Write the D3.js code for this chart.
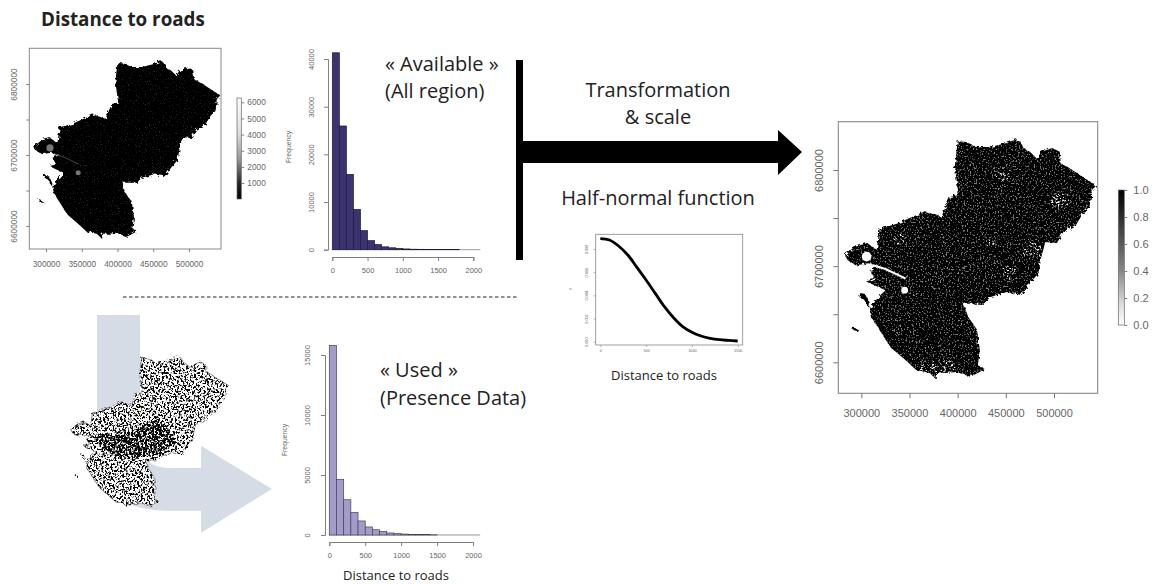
<!DOCTYPE html>
<html>
<head>
<meta charset="utf-8">
<script src="https://cdn.jsdelivr.net/npm/d3@7"></script>
<style>
  html, body { margin: 0; padding: 0; background: #fff; }
  svg { display: block; }
  .note { font-family: "Open Sans", sans-serif; fill: #222; }
  .r text { font-family: "Liberation Sans", sans-serif; fill: #666; }
  .r line, .r path.domain { stroke: #808080; }
</style>
</head>
<body>
<svg id="chart" width="1153" height="585"></svg>
<script>
// region outline (easting, northing in metres)
var regionOutline = [
  [400000,6830000],[409000,6829000],[420000,6824000],[434000,6824000],[451000,6828000],[461000,6832000],
  [466000,6829000],[468000,6823000],[475000,6819000],[482000,6812000],[487000,6819000],[498000,6823000],
  [506000,6819000],[507000,6807000],[524000,6797000],[534000,6790000],[544000,6784000],[539000,6779000],
  [537000,6762000],[530000,6755000],[523000,6743000],[510000,6736000],[503000,6724000],[491000,6725000],
  [487000,6710000],[484000,6693000],[475000,6682000],[466000,6670000],[451000,6673000],[434000,6668000],
  [427000,6661000],[406000,6661000],[411000,6647000],[420000,6634000],[423000,6613000],[421000,6597000],
  [428000,6593000],[421000,6589000],[413000,6585000],[399000,6590000],[388000,6589000],[378000,6589000],
  [377000,6583000],[371000,6589000],[357000,6592000],[344000,6604000],[331000,6615000],[323000,6627000],
  [311000,6646000],[309000,6656000],[317000,6667000],[325000,6675000],[316000,6679000],[305000,6684000],
  [314000,6687000],[309000,6696000],[319000,6700000],[307000,6703000],[295000,6701000],[286000,6706000],
  [283000,6712000],[293000,6720000],[306000,6724000],[316000,6717000],[319000,6739000],[337000,6744000],
  [366000,6757000],[383000,6751000],[392000,6772000],[401000,6774000],[397000,6803000]
];
var island1 = [[299000,6672000],[304000,6671000],[309000,6660000],[308000,6656000],[303000,6665000],[298000,6668000]];
var island2 = [[290000,6638000],[296000,6634000],[299000,6632000],[293000,6633000],[289000,6636000]];

// town blobs and the estuary, white on the big map
var blobs = [[305500,6710000,5000],[345000,6675000,3500]];
var estuary = [[312000,6701000],[325000,6697000],[338000,6691000],[346000,6687000]];
// the dense band of presence along the Loire
var riverBand = [[318000,6700000],[345000,6705000],[375000,6702000],[395000,6715000],[425000,6728000],[445000,6712000],
  [455000,6690000],[430000,6672000],[395000,6666000],[360000,6668000],[335000,6680000]];
var southPatch = [[357000,6592000],[378000,6589000],[399000,6590000],[398000,6600000],[375000,6603000]];
// lighter clusters on the big map
var lightSpots = [[506000,6769000,10000],[477000,6717000,10000],[454000,6693000,7000],[447000,6796000,8000],[433500,6724000,4000],[340000,6727000,6000]];

var histBreaks = [0,100,200,300,400,500,600,700,800,900,1000,1100,1200,1300,1400,1500,1600,1700,1800];
var availableCounts = [41300,25950,15800,8460,4000,1900,1100,600,400,280,160,100,80,60,50,40,30,20];
var usedCounts = [15800,4640,2940,1890,1170,670,440,300,170,110,80,55,40,30,20];

var curveX = [0,100,200,300,400,500,600,700,800,900,1000,1100,1200,1300,1400,1500];
var curveY = [0.0089,0.00878,0.00826,0.00748,0.00642,0.00532,0.00417,0.00302,0.00207,0.0013,0.00081,0.00049,0.00029,0.00017,0.00011,0.00006];

var mapXTicks = [300000,350000,400000,450000,500000];
var mapYTicks = [6600000,6650000,6700000,6750000,6800000];
var histXTicks = [0,500,1000,1500,2000];
var availableYTicks = [0,10000,20000,30000,40000];
var usedYTicks = [0,5000,10000,15000];
var curveXTicks = [0,500,1000,1500];
var curveYTicks = [0,0.002,0.004,0.006,0.008];
var distanceTicks = [1000,2000,3000,4000,5000,6000];
var probTicks = [0,0.2,0.4,0.6,0.8,1];

var svg = d3.select("#chart");
var defs = svg.append("defs");

function newFilter(id) {
  return defs.append("filter").attr("id", id).attr("color-interpolation-filters", "sRGB")
    .attr("x", "-5%").attr("y", "-5%").attr("width", "110%").attr("height", "110%");
}

// rough coast: same noise everywhere so all the layers of a map line up
function addCoastNoise(f) {
  f.append("feTurbulence").attr("type", "fractalNoise").attr("baseFrequency", 0.3).attr("numOctaves", 2).attr("seed", 2).attr("result", "coast");
}

// speckle = thresholded noise, kept inside the roughened shape
function makeSpeckle(id, freq, seed, rgb, slope, intercept) {
  var f = newFilter(id);
  addCoastNoise(f);
  f.append("feDisplacementMap").attr("in", "SourceAlpha").attr("in2", "coast").attr("scale", 5).attr("result", "shape");
  f.append("feTurbulence").attr("type", "fractalNoise").attr("baseFrequency", freq)
    .attr("numOctaves", 3).attr("seed", seed).attr("result", "noise");
  f.append("feColorMatrix").attr("in", "noise").attr("type", "matrix")
    .attr("values", "0 0 0 0 " + rgb + " 0 0 0 0 " + rgb + " 0 0 0 0 " + rgb + " 0 0 0 " + slope + " " + intercept)
    .attr("result", "dots");
  f.append("feComposite").attr("in", "dots").attr("in2", "shape").attr("operator", "in");
}
makeSpeckle("lightDots", "0.67 0.59", 3, 0.5, 7, -4.0);
makeSpeckle("spotDots", "0.43 0.51", 4, 0.95, 8, -4.6);
makeSpeckle("faintDots", "0.71 0.63", 5, 0.16, 6, -3.8);
makeSpeckle("blackDots", "0.53 0.47", 8, 0, 9, -4.4);
makeSpeckle("blackDense", "0.57 0.49", 11, 0, 9, -3.9);

var rough = newFilter("rough");
addCoastNoise(rough);
rough.append("feDisplacementMap").attr("in", "SourceGraphic").attr("in2", "coast").attr("scale", 5);
defs.append("filter").attr("id", "soft").append("feGaussianBlur").attr("stdDeviation", 0.55);

function rAxes(g, x, y, opt) {
  var ax = g.append("g").attr("class", "r").attr("transform", "translate(0," + opt.axisY + ")")
    .call(d3.axisBottom(x).tickValues(opt.xTicks).tickSizeOuter(0).tickSize(opt.tick).tickFormat(opt.xFormat || d3.format("d")));
  ax.selectAll("text").attr("font-size", opt.font).attr("y", opt.xLabelDy).attr("dy", "0.32em");
  var ay = g.append("g").attr("class", "r").attr("transform", "translate(" + opt.axisX + ",0)")
    .call(d3.axisLeft(y).tickValues(opt.yTicks).tickSizeOuter(0).tickSize(opt.tick).tickFormat(opt.yFormat || d3.format("d")));
  ay.selectAll("text").attr("font-size", opt.font).attr("transform", "rotate(-90)")
    .attr("text-anchor", "middle").attr("x", 0).attr("dy", 0).attr("y", -opt.yLabelDx);
  if (opt.noDomain) { ax.select(".domain").remove(); ay.select(".domain").remove(); }
  ax.selectAll("line,path").attr("stroke-width", opt.sw || 0.8);
  ay.selectAll("line,path").attr("stroke-width", opt.sw || 0.8);
}

function shapes(g, line, fill) {
  g.append("path").attr("d", line(regionOutline) + "Z").attr("fill", fill);
  g.append("path").attr("d", line(island1) + "Z").attr("fill", fill);
  g.append("path").attr("d", line(island2) + "Z").attr("fill", fill);
}

function drawMap(o) {
  var x = d3.scaleLinear().domain([300000,500000]).range(o.xr);
  var y = d3.scaleLinear().domain([6600000,6800000]).range(o.yr);
  var line = d3.line().x(function(d) { return x(d[0]); }).y(function(d) { return y(d[1]); });
  var g = svg.append("g");
  var soft = g.append("g").attr("filter", "url(#soft)");
  var land = soft.append("g").attr("filter", "url(#rough)");

  if (o.kind == "used") {
    shapes(land, line, "#fff");
    land.append("path").attr("d", line(regionOutline) + "Z").attr("fill", "none").attr("stroke", "#777").attr("stroke-width", 0.9);
    var dots = soft.append("g").attr("filter", "url(#blackDots)");
    shapes(dots, line, "#000");
    soft.append("path").attr("d", line(riverBand) + "Z").attr("fill", "#000").attr("filter", "url(#blackDense)");
    return;
  }

  shapes(land, line, "#000");
  var spots = soft.append("g").attr("filter", o.kind == "big" ? "url(#lightDots)" : "url(#faintDots)");
  spots.append("path").attr("d", line(regionOutline) + "Z").attr("fill", "#fff");
  if (o.kind == "big") {
    soft.append("g").attr("filter", "url(#spotDots)").selectAll("circle").data(lightSpots).enter().append("circle")
      .attr("cx", function(d) { return x(d[0]); }).attr("cy", function(d) { return y(d[1]); })
      .attr("r", function(d) { return x(d[2]) - x(0); }).attr("fill", "#fff");
    soft.append("path").attr("d", line(southPatch) + "Z").attr("fill", "#fff").attr("filter", "url(#spotDots)");
  }
  var hole = o.kind == "big" ? "#fff" : "#777";
  soft.selectAll("circle.blob").data(blobs).enter().append("circle").attr("class", "blob")
    .attr("cx", function(d) { return x(d[0]); }).attr("cy", function(d) { return y(d[1]); })
    .attr("r", function(d) { return x(d[2]) - x(0); }).attr("fill", hole);
  soft.append("path").attr("d", line(estuary)).attr("fill", "none").attr("stroke", o.kind == "big" ? "#fff" : "#555")
    .attr("stroke-width", o.kind == "big" ? 2 : 0.8);

  g.append("rect").attr("x", o.box[0]).attr("y", o.box[1]).attr("width", o.box[2] - o.box[0]).attr("height", o.box[3] - o.box[1])
    .attr("fill", "none").attr("stroke", "#888").attr("stroke-width", o.sw);
  rAxes(g, x, y, {
    axisX: o.box[0], axisY: o.box[3], xTicks: mapXTicks, yTicks: mapYTicks, noDomain: true,
    tick: o.tick, font: o.font, xLabelDy: o.xDy, yLabelDx: o.yDx, sw: o.sw,
    yFormat: function(d) { return d % 100000 == 0 ? d : ""; }
  });
}

function drawHist(o) {
  var x = d3.scaleLinear().domain([0,2000]).range(o.xr);
  var y = d3.scaleLinear().domain([0,o.yTicks[o.yTicks.length - 1]]).range(o.yr);
  var g = svg.append("g");
  g.append("line").attr("x1", x(0)).attr("x2", x(2100)).attr("y1", y(0)).attr("y2", y(0)).attr("stroke", "#999");
  g.selectAll("rect").data(o.counts).enter().append("rect")
    .attr("x", function(d, i) { return x(histBreaks[i]); })
    .attr("width", function(d, i) { return x(histBreaks[i + 1]) - x(histBreaks[i]); })
    .attr("y", function(d) { return y(d); })
    .attr("height", function(d) { return y(0) - y(d); })
    .attr("fill", o.fill).attr("stroke", o.stroke).attr("stroke-width", 0.7);
  rAxes(g, x, y, {
    axisX: o.axisX, axisY: o.axisY, xTicks: histXTicks, yTicks: o.yTicks, tick: 4, font: 7.5,
    xLabelDy: 14, yLabelDx: o.yDx, sw: 1
  });
  g.append("text").attr("transform", "translate(" + o.labelX + "," + o.labelY + ") rotate(-90)")
    .attr("text-anchor", "middle").attr("font-family", "Liberation Sans, sans-serif").attr("font-size", 6.8).attr("fill", "#666").text("Frequency");
}

// big arrow and the grey L arrow go under everything
svg.append("path").attr("d", "M97,315H140V440Q141,468 170,468H201V445.7L272,489L201,532.7V510.7H165Q97,510 97,440Z").attr("fill", "#d6dce5");
svg.append("rect").attr("x", 516).attr("y", 60).attr("width", 7).attr("height", 200).attr("fill", "#000");
svg.append("path").attr("d", "M520,141H778V130L802,152L778,175V163H520Z").attr("fill", "#000");
svg.append("line").attr("x1", 123).attr("x2", 518).attr("y1", 297).attr("y2", 297)
  .attr("stroke", "#222").attr("stroke-width", 1).attr("stroke-dasharray", "3.5,2.5");

drawMap({ kind: "dark", xr: [46,189], yr: [226,84], box: [29.3,48.3,221,249], tick: 3, font: 8.3, xDy: 15, yDx: 12, sw: 1 });
drawMap({ kind: "big", xr: [861.3,1054], yr: [362.3,170], box: [838.3,121.7,1097.7,393.3], tick: 5, font: 11, xDy: 20, yDx: 15, sw: 1.1 });
drawMap({ kind: "used", xr: [81,202], yr: [497,376] });

drawHist({ counts: availableCounts, xr: [332.3,473.3], yr: [249.7,59], yTicks: availableYTicks, fill: "#3b3270", stroke: "#1e1a3c", axisX: 328, axisY: 257, yDx: 14, labelX: 291, labelY: 147 });
drawHist({ counts: usedCounts, xr: [329.3,473], yr: [535,355], yTicks: usedYTicks, fill: "#a49cc8", stroke: "#454060", axisX: 325, axisY: 542, yDx: 15.5, labelX: 287, labelY: 440 });

// half-normal curve
var cx = d3.scaleLinear().domain([0,1500]).range([600.3,737.7]);
var cy = d3.scaleLinear().domain([0,0.008]).range([341.7,249]);
var cg = svg.append("g");
cg.append("rect").attr("x", 595.7).attr("y", 234.3).attr("width", 147).attr("height", 110.7).attr("fill", "none").attr("stroke", "#888").attr("stroke-width", 0.8);
rAxes(cg, cx, cy, { axisX: 595.7, axisY: 345, xTicks: curveXTicks, yTicks: curveYTicks, noDomain: true, tick: 2, font: 3.8, xLabelDy: 6, yLabelDx: 8, sw: 0.6,
  yFormat: d3.format(".3f") });
cg.append("text").attr("transform", "translate(572,289) rotate(-90)").attr("text-anchor", "middle").attr("font-family", "Liberation Sans, sans-serif").attr("font-size", 4).attr("fill", "#555").text("f");
cg.append("path").datum(d3.zip(curveX, curveY))
  .attr("d", d3.line().x(function(d) { return cx(d[0]); }).y(function(d) { return cy(d[1]); }).curve(d3.curveCatmullRom))
  .attr("fill", "none").attr("stroke", "#000").attr("stroke-width", 2.8);

// colour keys
function colorKey(id, x0, w, y0, y1, scale, ticks, stops, font, labelX) {
  var grad = defs.append("linearGradient").attr("id", id).attr("x1", 0).attr("x2", 0).attr("y1", 0).attr("y2", 1);
  grad.selectAll("stop").data(stops).enter().append("stop")
    .attr("offset", function(d) { return d[0]; }).attr("stop-color", function(d) { return d[1]; });
  var g = svg.append("g");
  g.append("rect").attr("x", x0).attr("y", y0).attr("width", w).attr("height", y1 - y0)
    .attr("fill", "url(#" + id + ")").attr("stroke", "#666").attr("stroke-width", 0.7);
  var a = g.append("g").attr("class", "r").attr("transform", "translate(" + (x0 + w) + ",0)")
    .call(d3.axisRight(scale).tickValues(ticks).tickSize(3).tickSizeOuter(0).tickFormat(font > 9 ? d3.format(".1f") : d3.format("d")));
  a.select(".domain").remove();
  a.selectAll("text").attr("font-size", font).attr("x", labelX);
}
colorKey("keyA", 237, 4.3, 98, 199, d3.scaleLinear().domain([1000,6000]).range([183,102.3]), distanceTicks,
  [[0,"#fff"],[0.35,"#ddd"],[0.6,"#999"],[0.85,"#222"],[1,"#000"]], 8.3, 6);
colorKey("keyB", 1118.3, 6, 190, 325, d3.scaleLinear().domain([0,1]).range([325,190]), probTicks,
  [[0,"#000"],[0.3,"#444"],[0.6,"#888"],[0.85,"#ddd"],[1,"#fff"]], 11, 9);

// text notes
function note(t, x, y, size, anchor, weight) {
  svg.append("text").attr("class", "note").attr("x", x).attr("y", y).attr("font-size", size)
    .attr("text-anchor", anchor || "start").attr("font-weight", weight || 400).text(t);
}
note("Distance to roads", 41, 26, 18.8, "start", 700);
note("« Available »", 385, 71, 20);
note("(All region)", 385, 98, 20);
note("Transformation", 658, 97, 20, "middle");
note("& scale", 658, 124, 20, "middle");
note("Half-normal function", 658, 205, 20, "middle");
note("« Used »", 380, 377, 20);
note("(Presence Data)", 380, 405, 20);
note("Distance to roads", 396, 580, 13, "middle");
note("Distance to roads", 664, 380, 13, "middle");
</script>
</body>
</html>
